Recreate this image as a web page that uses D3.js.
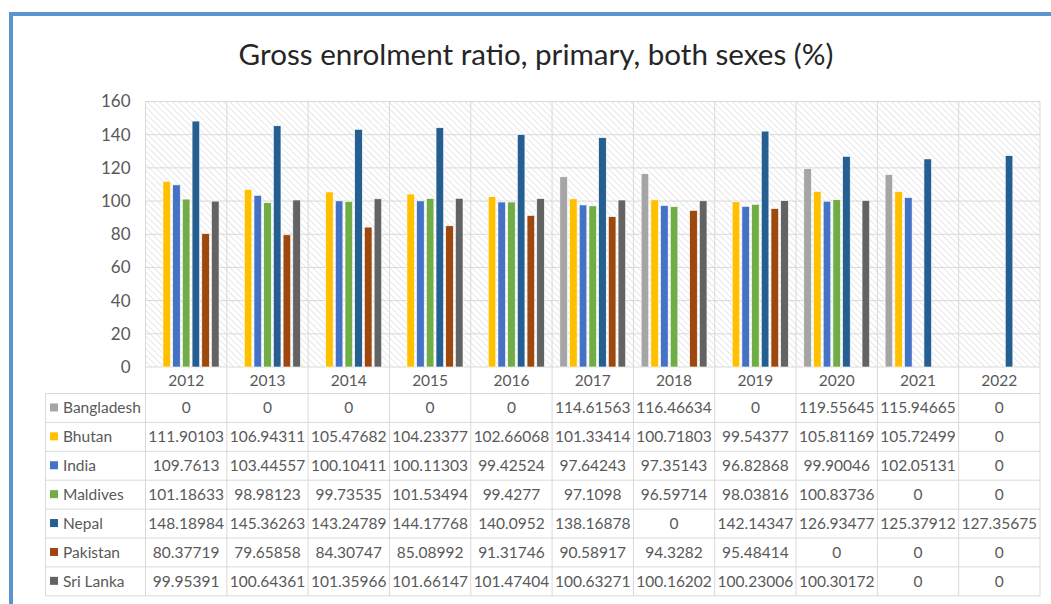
<!DOCTYPE html>
<html>
<head>
<meta charset="utf-8">
<script src="https://cdn.jsdelivr.net/npm/d3@7/dist/d3.min.js"></script>
<style>
  html, body { margin: 0; padding: 0; background: #fff; }
  svg { display: block; }
</style>
</head>
<body>
<svg id="chart" width="1051" height="604"></svg>
<script>
// Gross enrolment ratio, primary, both sexes (%) — South Asia, 2012–2022
const years = ["2012","2013","2014","2015","2016","2017","2018","2019","2020","2021","2022"];
const countries = ["Bangladesh","Bhutan","India","Maldives","Nepal","Pakistan","Sri Lanka"];
const yTicks = [0,20,40,60,80,100,120,140,160];

const bangladesh = ["0","0","0","0","0","114.61563","116.46634","0","119.55645","115.94665","0"];
const bhutan     = ["111.90103","106.94311","105.47682","104.23377","102.66068","101.33414","100.71803","99.54377","105.81169","105.72499","0"];
const india      = ["109.7613","103.44557","100.10411","100.11303","99.42524","97.64243","97.35143","96.82868","99.90046","102.05131","0"];
const maldives   = ["101.18633","98.98123","99.73535","101.53494","99.4277","97.1098","96.59714","98.03816","100.83736","0","0"];
const nepal      = ["148.18984","145.36263","143.24789","144.17768","140.0952","138.16878","0","142.14347","126.93477","125.37912","127.35675"];
const pakistan   = ["80.37719","79.65858","84.30747","85.08992","91.31746","90.58917","94.3282","95.48414","0","0","0"];
const sriLanka   = ["99.95391","100.64361","101.35966","101.66147","101.47404","100.63271","100.16202","100.23006","100.30172","0","0"];

const seriesValues = [bangladesh, bhutan, india, maldives, nepal, pakistan, sriLanka];
const colors = ["#A5A5A5","#FFC000","#4472C4","#70AD47","#255E91","#9E480E","#636363"];

const svg = d3.select("#chart");
const font = "Lato, 'Open Sans', sans-serif";
const textGrey = "#595959";

// frame
svg.append("rect").attr("x", 11).attr("y", 14).attr("width", 1060).attr("height", 620)
  .attr("fill", "#fff").attr("stroke", "#5B95D0").attr("stroke-width", 4);

// title
svg.append("text")
  .attr("x", 536).attr("y", 65)
  .attr("text-anchor", "middle")
  .attr("font-family", font)
  .attr("font-size", 29.6)
  .attr("fill", "#262626")
  .text("Gross enrolment ratio, primary, both sexes (%)");

// plot geometry
const plot = { left: 145.5, right: 1040, top: 101.5, bottom: 367 };

const x0 = d3.scaleBand().domain(years).range([plot.left, plot.right]).paddingInner(0).paddingOuter(0);
const y = d3.scaleLinear().domain([0, 160]).range([plot.bottom, plot.top]);
const x1 = d3.scaleBand().domain(countries).range([0, 9.4 * 7]).paddingInner(0.22).paddingOuter(0);

// hatched background (diagonal lines running down to the right)
const defs = svg.append("defs");
const pat = defs.append("pattern")
  .attr("id", "hatch").attr("patternUnits", "userSpaceOnUse")
  .attr("width", 4.5).attr("height", 4.5)
  .attr("patternTransform", "rotate(-45)");
pat.append("rect").attr("width", 4.5).attr("height", 4.5).attr("fill", "#ffffff");
pat.append("line").attr("x1", 0).attr("y1", 0).attr("x2", 0).attr("y2", 4.5)
  .attr("stroke", "#dedede").attr("stroke-width", 1.4);

svg.append("rect")
  .attr("x", plot.left).attr("y", plot.top)
  .attr("width", plot.right - plot.left).attr("height", plot.bottom - plot.top)
  .attr("fill", "url(#hatch)");

// horizontal gridlines
svg.append("g").selectAll("line").data(yTicks).join("line")
  .attr("x1", plot.left).attr("x2", plot.right)
  .attr("y1", d => y(d)).attr("y2", d => y(d))
  .attr("stroke", "#d9d9d9").attr("stroke-width", 1);

// y axis labels
const yAxis = d3.axisLeft(y).tickValues(yTicks).tickSize(0).tickPadding(15);
const yg = svg.append("g").attr("transform", `translate(${plot.left},0)`).call(yAxis);
yg.select(".domain").remove();
yg.selectAll("text").attr("font-family", font).attr("font-size", 17).attr("fill", textGrey);

// table geometry
const headerBottom = 393.5;
const rowH = 28.9;
const tableLeft = 45.5;
const tableBottom = headerBottom + rowH * countries.length;

// vertical category separators through plot and table
const bounds = years.map(d => x0(d)).concat([plot.right]);
svg.append("g").selectAll("line").data(bounds).join("line")
  .attr("x1", d => d).attr("x2", d => d)
  .attr("y1", plot.top).attr("y2", tableBottom)
  .attr("stroke", "#d9d9d9").attr("stroke-width", 1);

// bars
const groups = svg.append("g").selectAll("g").data(years).join("g")
  .attr("transform", d => `translate(${x0(d) + x0.bandwidth() / 2 - x1.range()[1] / 2},0)`);

groups.selectAll("rect")
  .data((yr, i) => countries.map((c, k) => ({ c, k, v: +seriesValues[k][i] })))
  .join("rect")
  .filter(d => d.v > 0)
  .attr("x", d => x1(d.c))
  .attr("y", d => y(d.v))
  .attr("width", x1.bandwidth())
  .attr("height", d => y(0) - y(d.v))
  .attr("fill", d => colors[d.k])
  .attr("stroke", "#ffffff").attr("stroke-width", 0.6);

// table horizontal lines
const hLines = [headerBottom];
for (let r = 1; r <= countries.length; r++) hLines.push(headerBottom + rowH * r);
svg.append("g").selectAll("line").data(hLines).join("line")
  .attr("x1", tableLeft).attr("x2", plot.right)
  .attr("y1", d => d).attr("y2", d => d)
  .attr("stroke", "#d9d9d9").attr("stroke-width", 1);
svg.append("line")
  .attr("x1", tableLeft).attr("x2", tableLeft)
  .attr("y1", headerBottom).attr("y2", tableBottom)
  .attr("stroke", "#d9d9d9").attr("stroke-width", 1);

// header year labels
svg.append("g").selectAll("text").data(years).join("text")
  .attr("x", d => x0(d) + x0.bandwidth() / 2)
  .attr("y", (plot.bottom + headerBottom) / 2 + 5.5)
  .attr("text-anchor", "middle")
  .attr("font-family", font).attr("font-size", 15.5).attr("fill", textGrey)
  .text(d => d);

// legend column + values
const rows = svg.append("g").selectAll("g").data(countries).join("g")
  .attr("transform", (d, i) => `translate(0,${headerBottom + rowH * i + rowH / 2})`);

rows.append("rect")
  .attr("x", 50).attr("y", -4.5).attr("width", 8).attr("height", 8)
  .attr("fill", (d, i) => colors[i]);

rows.append("text")
  .attr("x", 63).attr("y", 5.5)
  .attr("font-family", font).attr("font-size", 15.5).attr("fill", textGrey)
  .text(d => d);

rows.selectAll("text.val")
  .data((c, k) => seriesValues[k].map((v, i) => ({ v, yr: years[i] })))
  .join("text").attr("class", "val")
  .attr("x", d => x0(d.yr) + x0.bandwidth() / 2)
  .attr("y", 5.5)
  .attr("text-anchor", "middle")
  .attr("font-family", font).attr("font-size", 15.5).attr("fill", textGrey)
  .text(d => d.v);
</script>
</body>
</html>
